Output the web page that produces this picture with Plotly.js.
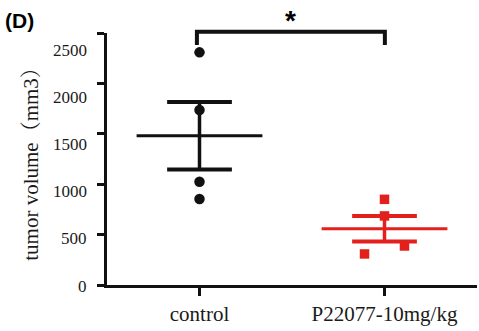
<!DOCTYPE html>
<html>
<head>
<meta charset="utf-8">
<script src="https://cdn.plot.ly/plotly-3.0.1.min.js"></script>
<style>html,body{margin:0;padding:0;background:#fff;}#chart{width:479px;height:331px;}</style>
</head>
<body>
<div id="chart"></div>
<script>
// ---- data ----
const categories = ["control", "P22077-10mg/kg"];
const controlValues = [2308, 1736, 1025, 853];
const treatedValues = [850, 685, 387, 308];
const yTickValues = [0, 500, 1000, 1500, 2000, 2500];
const panelLabel = "(D)";
const yTitle = "tumor volume（mm3）";
const sigLabel = "*";

// ---- layout helpers (positions/styles) ----
const treatedJitter = [0, 0, 0.108, -0.108];
const meanHalf = 0.34, capHalf = 0.175;
const serif = "Liberation Serif, Times New Roman, Noto Serif CJK SC, Noto Sans CJK SC, serif";
const BLACK = "#111111", RED = "#e3211c";
const Y_MAX = 2500;

function mean(a){return a.reduce((s,v)=>s+v,0)/a.length;}
function sem(a){const m=mean(a);const sd=Math.sqrt(a.reduce((s,v)=>s+(v-m)*(v-m),0)/(a.length-1));return sd/Math.sqrt(a.length);}

const traces = [];
function group(idx, vals, jitter, color, symbol, size){
  const m = mean(vals), e = sem(vals);
  traces.push({x:[idx, idx], y:[m-e, m+e], mode:"lines", line:{color:color, width:3.5}, hoverinfo:"skip", showlegend:false});
  traces.push({x:[idx-capHalf, idx+capHalf], y:[m+e, m+e], mode:"lines", line:{color:color, width:4}, hoverinfo:"skip", showlegend:false});
  traces.push({x:[idx-capHalf, idx+capHalf], y:[m-e, m-e], mode:"lines", line:{color:color, width:4}, hoverinfo:"skip", showlegend:false});
  traces.push({x:[idx-meanHalf, idx+meanHalf], y:[m, m], mode:"lines", line:{color:color, width:3}, hoverinfo:"skip", showlegend:false});
  traces.push({x: vals.map((v,i)=>idx + jitter[i]), y: vals, mode:"markers", cliponaxis:false,
    marker:{color:color, symbol:symbol, size:size, line:{width:0}}, showlegend:false, name:categories[idx]});
}
group(0, controlValues, controlValues.map(()=>0), BLACK, "circle", 10.5);
group(1, treatedValues, treatedJitter, RED, "square", 9.5);

const annotations = yTickValues.map(v => ({
  xref:"paper", yref:"paper", x:0, y: (v*0.934 - 10)/Y_MAX, xanchor:"right", yanchor:"middle", xshift:-18,
  text:String(v), showarrow:false, font:{family:serif, size:17, color:"#1a1a1a"}
}));
annotations.push({xref:"paper", yref:"paper", x:-0.28, y:1.03, xanchor:"left", yanchor:"middle", yshift:5,
  text:"<b>"+panelLabel+"</b>", showarrow:false, font:{family:"Liberation Sans, Arial, sans-serif", size:21, color:"#000"}});
annotations.push({xref:"paper", yref:"paper", x:0.497, y:1.063, xanchor:"center", yanchor:"middle", yshift:-3,
  text:"<b>"+sigLabel+"</b>", showarrow:false, font:{family:"Liberation Sans, Arial, sans-serif", size:28, color:"#000"}});

const layout = {
  width:479, height:331,
  margin:{l:107, r:2, t:33, b:46},
  paper_bgcolor:"#fff", plot_bgcolor:"#fff",
  showlegend:false,
  xaxis:{range:[-0.5,1.5], tickvals:[0,1], ticktext:categories, showgrid:false, zeroline:false,
    showline:true, linecolor:BLACK, linewidth:3, ticks:"outside", ticklen:8, tickwidth:3, tickcolor:BLACK,
    tickfont:{family:serif, size:21, color:"#1a1a1a"}, fixedrange:true},
  yaxis:{range:[0,Y_MAX], tickvals:yTickValues, showticklabels:false, showgrid:false, zeroline:false,
    showline:true, linecolor:BLACK, linewidth:3, ticks:"outside", ticklen:7, tickwidth:3, tickcolor:BLACK,
    title:{text:yTitle, font:{family:serif, size:21, color:"#1a1a1a"}, standoff:53}, automargin:false, fixedrange:true},
  shapes:[
    {type:"path", xref:"paper", yref:"paper",
     path:"M 0.243 0.952 L 0.243 1.005 L 0.751 1.005 L 0.751 0.952",
     line:{color:BLACK, width:4}}
  ],
  annotations:annotations
};
Plotly.newPlot("chart", traces, layout, {displayModeBar:false, staticPlot:true});
</script>
</body>
</html>
